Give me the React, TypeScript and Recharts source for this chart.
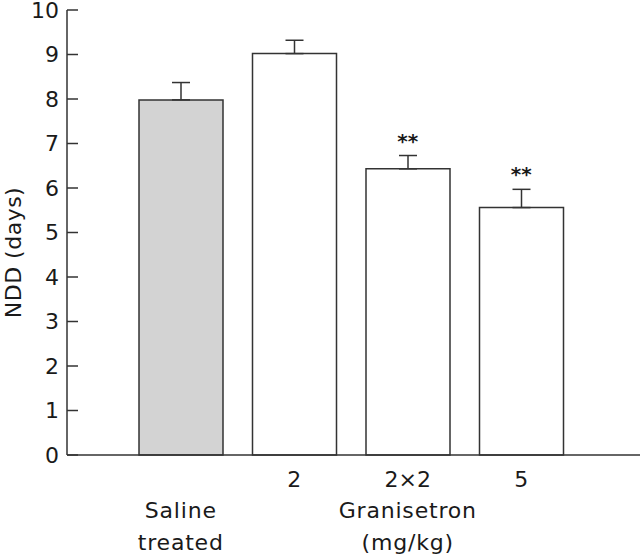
import React from "react";
import {
  ComposedChart,
  Bar,
  Cell,
  ErrorBar,
  Scatter,
  XAxis,
  YAxis,
} from "recharts";

const categories = ["saline", "2", "2x2", "5"];
const doseLabels = ["", "2", "2×2", "5"];
const groupLabels = [["Saline", "treated"], [], ["Granisetron", "(mg/kg)"], []];
const means = [7.98, 9.02, 6.43, 5.56];
const sems = [0.39, 0.3, 0.3, 0.41];
const marks = ["", "", "**", "**"];
const yTicks = [0, 1, 2, 3, 4, 5, 6, 7, 8, 9, 10];

const FONT = "'DejaVu Sans', 'Noto Sans', sans-serif";
const INK = "#1a1a1a";
const LINE = "#333";

const data = categories.map((c, i) => ({
  name: c,
  mean: means[i],
  err: [0, sems[i]],
  top: marks[i] ? means[i] + sems[i] : null,
  mark: marks[i],
  dose: doseLabels[i],
  group: groupLabels[i],
}));

const YTick = (props: any) => {
  const { x, y, payload } = props;
  return (
    <g>
      <line x1={x + 7} x2={x + 18} y1={y} y2={y} stroke={LINE} strokeWidth={1.5} />
      <text x={x - 1} y={y} dy={7.5} textAnchor="end" fontSize={22} fontFamily={FONT} fill={INK}>
        {payload.value}
      </text>
    </g>
  );
};

const XTick = (props: any) => {
  const { x, y, index } = props;
  const d = data[index];
  return (
    <g fontFamily={FONT} fontSize={22} fill={INK} textAnchor="middle">
      {d.dose && (
        <text x={x} y={y + 30}>
          {d.dose}
        </text>
      )}
      {d.group.map((t: string, k: number) => (
        <text key={k} x={x} y={y + 61 + k * 32} letterSpacing={0.8}>
          {t}
        </text>
      ))}
    </g>
  );
};

const YLabel = (props: any) => {
  const { viewBox } = props;
  const x = viewBox.x + 21;
  const y = viewBox.y + viewBox.height / 2 + 20;
  return (
    <text
      x={x}
      y={y}
      transform={`rotate(-90, ${x}, ${y})`}
      textAnchor="middle"
      fontSize={22}
      fontFamily={FONT}
      fill={INK}
      letterSpacing={0.5}
    >
      NDD (days)
    </text>
  );
};

const Stars = (props: any) => {
  const { cx, cy, payload } = props;
  if (!payload.mark) return null;
  return (
    <text x={cx} y={cy - 8} textAnchor="middle" fontSize={20} fontWeight="bold" fontFamily={FONT} fill={INK}>
      {payload.mark}
    </text>
  );
};

export default function App() {
  return (
    <div style={{ position: "absolute", left: 0, top: 0, background: "#fff" }}>
      <ComposedChart
        width={640}
        height={556}
        data={data}
        margin={{ top: 10, right: 0, bottom: 0, left: 0 }}
      >
        <XAxis
          dataKey="name"
          height={101}
          padding={{ left: 57, right: 62 }}
          tickLine={false}
          tickSize={0}
          tick={<XTick />}
          stroke={LINE}
          strokeWidth={1.5}
          interval={0}
        />
        <YAxis
          width={67}
          domain={[0, 10]}
          ticks={yTicks}
          tickLine={false}
          tickSize={0}
          tickMargin={7}
          tick={<YTick />}
          stroke={LINE}
          strokeWidth={1.5}
          label={<YLabel />}
        />
        <Bar dataKey="mean" barSize={84} stroke={LINE} strokeWidth={1.5} isAnimationActive={false}>
          {data.map((d, i) => (
            <Cell key={i} fill={i === 0 ? "#d3d3d3" : "#fff"} />
          ))}
          <ErrorBar dataKey="err" direction="y" width={9} stroke={LINE} strokeWidth={1.5} />
        </Bar>
        <Scatter dataKey="top" shape={<Stars />} isAnimationActive={false} />
      </ComposedChart>
    </div>
  );
}
